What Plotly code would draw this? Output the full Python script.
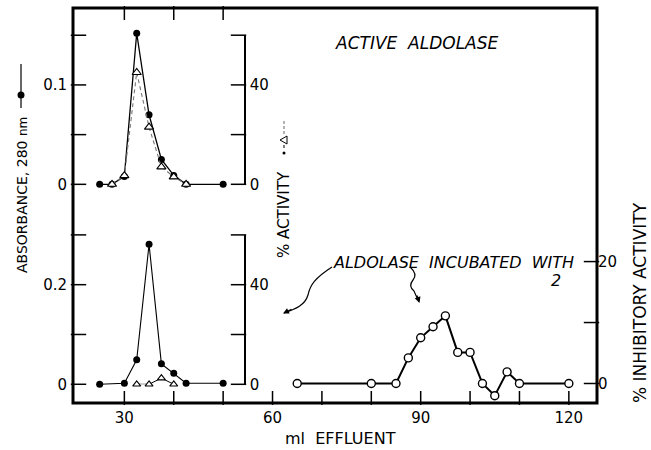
import plotly.graph_objects as go

# ---------------- data ----------------
top_abs_x = [25, 27.5, 30, 32.5, 35, 37.5, 40, 42.5, 50]
top_abs_y = [0, 0, 0.008, 0.152, 0.070, 0.025, 0.009, 0, 0]

top_act_x = [27.5, 30, 32.5, 35, 37.5, 40, 42.5]
top_act_y = [0, 3.5, 45, 23, 7, 3, 0]

bot_abs_x = [25, 30, 32.5, 35, 37.5, 40, 42.5, 50]
bot_abs_y = [0, 0.002, 0.049, 0.281, 0.041, 0.022, 0.002, 0.002]

bot_act_x = [32.5, 35, 37.5, 40]
bot_act_y = [0, 0, 2.5, 0]

inh_x = [65, 80, 85, 87.5, 90, 92.5, 95, 97.5, 100, 102.5, 105, 107.5, 110, 120]
inh_y = [0, 0, 0, 4.2, 7.5, 9.3, 11.1, 5.1, 5.1, 0, -2.0, 1.9, 0, 0]

x_tickvals = [30, 60, 90, 120]
x_minor = [40, 50, 70, 80, 100, 110]
x_top_ticks = [30, 40, 50]
top_abs_ticks = [0, 0.05, 0.1, 0.15]
top_abs_text = ["0", "", "0.1", ""]
bot_abs_ticks = [0, 0.1, 0.2, 0.3]
bot_abs_text = ["0", "", "0.2", ""]
act_ticks = [0, 20, 40, 60]
act_text = ["0", "", "40", ""]
inh_ticks = [0, 10, 20]
inh_text = ["0", "", "20"]

# ---------------- geometry helpers (layout only) ----------------
W, H = 651, 450
L, R, T, B = 73, 597, 8, 403
def px(x):
    return (x - L) / (R - L)
def py(y):
    return (B - y) / (B - T)

FONT = "DejaVu Sans"
tickfont = dict(family=FONT, size=15, color="black")
CLEAR = "rgba(0,0,0,0)"
XR = [19.6, 125.7]
Y5R = [-3.2, 61.6]
XPP = (R - L) / (XR[1] - XR[0])      # pixels per ml
YPP5 = (B - T) / (Y5R[1] - Y5R[0])   # pixels per % on inhibitory axis
TL = 11                              # tick length in pixels

def x_at_px(p):
    return XR[0] + (p - L) / XPP

fig = go.Figure()

fig.add_trace(go.Scatter(x=top_abs_x, y=top_abs_y, yaxis="y", mode="lines+markers",
                         line=dict(color="black", width=1.3),
                         marker=dict(symbol="circle", size=7, color="black"),
                         cliponaxis=False, showlegend=False))
fig.add_trace(go.Scatter(x=top_act_x, y=top_act_y, yaxis="y3", mode="lines+markers",
                         line=dict(color="#777777", width=1.1, dash="4px,3px"),
                         marker=dict(symbol="triangle-up", size=8, color="white",
                                     line=dict(color="black", width=1.1)),
                         cliponaxis=False, showlegend=False))
fig.add_trace(go.Scatter(x=bot_abs_x, y=bot_abs_y, yaxis="y2", mode="lines+markers",
                         line=dict(color="black", width=1.1),
                         marker=dict(symbol="circle", size=7, color="black"),
                         cliponaxis=False, showlegend=False))
fig.add_trace(go.Scatter(x=bot_act_x, y=bot_act_y, yaxis="y4", mode="lines+markers",
                         line=dict(color="black", width=1.0),
                         marker=dict(symbol="triangle-up", size=7, color="white",
                                     line=dict(color="black", width=1.1)),
                         cliponaxis=False, showlegend=False))
fig.add_trace(go.Scatter(x=inh_x, y=inh_y, yaxis="y5", mode="lines+markers",
                         line=dict(color="black", width=2),
                         marker=dict(symbol="circle", size=8, color="white",
                                     line=dict(color="black", width=1.4)),
                         cliponaxis=False, showlegend=False))

# tick marks (inward pointing), drawn as line markers at the axes' tick values
def tickmarks(xs, ys, yaxis, symbol, size=TL):
    fig.add_trace(go.Scatter(x=xs, y=ys, yaxis=yaxis, mode="markers",
                             marker=dict(symbol=symbol, size=size, color="black",
                                         line=dict(color="black", width=1.5)),
                             cliponaxis=False, showlegend=False, hoverinfo="skip"))

x_left = x_at_px(L + TL / 2)
x_inner = x_at_px(244 - TL / 2)
x_right = x_at_px(R - TL / 2)
tickmarks([x_left] * len(top_abs_ticks), top_abs_ticks, "y", "line-ew")
tickmarks([x_left] * len(bot_abs_ticks), bot_abs_ticks, "y2", "line-ew")
tickmarks([x_inner] * len(act_ticks), act_ticks, "y3", "line-ew")
tickmarks([x_inner] * len(act_ticks), act_ticks, "y4", "line-ew")
tickmarks([x_right] * len(inh_ticks), inh_ticks, "y5", "line-ew")
bottom_ticks = x_tickvals + x_minor
tickmarks(bottom_ticks, [Y5R[0] + 5 / YPP5] * len(bottom_ticks), "y5", "line-ns", 10)
tickmarks(x_top_ticks, [Y5R[1] - 5 / YPP5] * len(x_top_ticks), "y5", "line-ns", 10)

# invisible helpers so that the helper axis exists
fig.add_trace(go.Scatter(x=[30], y=[0], xaxis="x3", yaxis="y3", mode="markers",
                         marker=dict(opacity=0), showlegend=False, hoverinfo="skip"))
fig.add_trace(go.Scatter(x=[30], y=[0], xaxis="x3", yaxis="y4", mode="markers",
                         marker=dict(opacity=0), showlegend=False, hoverinfo="skip"))

common_y = dict(showgrid=False, zeroline=False, ticks="", tickfont=tickfont)

fig.update_layout(
    template="none",
    width=W, height=H,
    margin=dict(l=L, r=W - R, t=T, b=H - B),
    paper_bgcolor="white", plot_bgcolor=CLEAR,
    showlegend=False,
    xaxis=dict(range=XR, anchor="y2", domain=[0, 1],
               tickvals=x_tickvals, ticks="", tickfont=tickfont, showgrid=False,
               zeroline=False, showline=False, ticklabelstandoff=4),
    xaxis3=dict(range=XR, domain=[0, px(244)], anchor="y3", showgrid=False,
                zeroline=False, showticklabels=False, ticks="", showline=False),
    yaxis=dict(domain=[0.5, 1.0], range=[-0.0213, 0.1774], anchor="x",
               tickvals=top_abs_ticks, ticktext=top_abs_text, ticklabelstandoff=5,
               **common_y),
    yaxis2=dict(domain=[0.0, 0.5], range=[-0.0376, 0.359], anchor="x",
                tickvals=bot_abs_ticks, ticktext=bot_abs_text, ticklabelstandoff=5,
                **common_y),
    yaxis3=dict(domain=[py(184.3), py(35.2)], range=[0, 60], anchor="x3",
                side="right", tickvals=act_ticks, ticktext=act_text,
                showline=True, linecolor="black", linewidth=1.5, ticklabelstandoff=1,
                **common_y),
    yaxis4=dict(domain=[py(384.3), py(234.9)], range=[0, 60], anchor="x3",
                side="right", tickvals=act_ticks, ticktext=act_text,
                showline=True, linecolor="black", linewidth=1.5, ticklabelstandoff=1,
                **common_y),
    yaxis5=dict(domain=[0, 1], range=Y5R, anchor="x", side="right",
                tickvals=inh_ticks, ticktext=inh_text, **common_y),
)

shapes = []
# frame
shapes.append(dict(type="rect", xref="paper", yref="paper", x0=0, x1=1, y0=0, y1=1,
                   line=dict(color="black", width=3)))
# legend keys for axis titles
shapes.append(dict(type="line", xref="paper", yref="paper", x0=px(21), x1=px(21),
                   y0=py(64), y1=py(108), line=dict(color="black", width=1.2)))
shapes.append(dict(type="circle", xref="paper", yref="paper", x0=px(17.5), x1=px(24.5),
                   y0=py(98.5), y1=py(91.5), fillcolor="black", line=dict(color="black", width=0)))
shapes.append(dict(type="circle", xref="paper", yref="paper", x0=px(282.5), x1=px(285.5),
                   y0=py(154.5), y1=py(151.5), fillcolor="black", line=dict(width=0)))
shapes.append(dict(type="line", xref="paper", yref="paper", x0=px(284), x1=px(284),
                   y0=py(148), y1=py(145), line=dict(color="black", width=1)))
shapes.append(dict(type="path", xref="paper", yref="paper",
                   path=f"M {px(280)} {py(140)} L {px(287)} {py(136)} L {px(287)} {py(144)} Z",
                   line=dict(color="black", width=1), fillcolor="white"))
shapes.append(dict(type="line", xref="paper", yref="paper", x0=px(284), x1=px(284),
                   y0=py(134), y1=py(120), line=dict(color="#666666", width=1, dash="3px,2px")))

def pt(x, y):
    return f"{px(x)} {py(y)}"
# curved arrows
shapes.append(dict(type="path", xref="paper", yref="paper",
                   path=f"M {pt(332,267)} C {pt(315,278)} {pt(310,285)} {pt(308,295)} "
                        f"C {pt(305,305)} {pt(296,309)} {pt(284,313)}",
                   line=dict(color="black", width=1.2)))
shapes.append(dict(type="path", xref="paper", yref="paper",
                   path=f"M {pt(410,267)} Q {pt(418,274)} {pt(413,280)} "
                        f"Q {pt(408,286)} {pt(414,291)} L {pt(418,300)}",
                   line=dict(color="black", width=1.2)))
fig.update_layout(shapes=shapes)

ann = []
def text(x, y, s, size=15, angle=0, xanchor="center"):
    ann.append(dict(x=px(x), y=py(y), xref="paper", yref="paper", text=s,
                    showarrow=False, textangle=angle, xanchor=xanchor, yanchor="middle",
                    font=dict(family=FONT, size=size, color="black")))

text(417, 43, "<i>ACTIVE  ALDOLASE</i>", size=17)
text(453, 262, "<i>ALDOLASE  INCUBATED  WITH</i>", size=16)
text(556, 280, "<i>2</i>", size=16)
text(22, 195, "ABSORBANCE, 280 <span style='font-size:12px'>nm</span>", size=14, angle=-90)
text(284, 215, "% ACTIVITY", size=15, angle=-90)
text(640, 303, "% INHIBITORY ACTIVITY", size=17, angle=-90)
text(340, 438, "ml  EFFLUENT", size=16)

# arrowheads
ann.append(dict(x=px(283), y=py(313.5), xref="paper", yref="paper", text="", showarrow=True,
                ax=10, ay=-5, arrowhead=2, arrowsize=1, arrowwidth=1.2, arrowcolor="black"))
ann.append(dict(x=px(419.5), y=py(303), xref="paper", yref="paper", text="", showarrow=True,
                ax=-3, ay=-9, arrowhead=2, arrowsize=1, arrowwidth=1.2, arrowcolor="black"))
fig.update_layout(annotations=ann)

fig.write_html("out.html")
